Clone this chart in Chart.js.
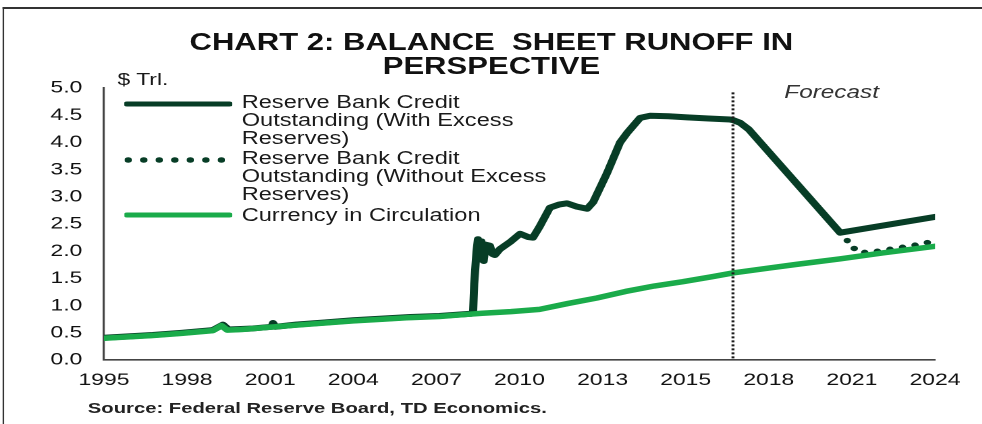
<!DOCTYPE html>
<html>
<head>
<meta charset="utf-8">
<script src="https://cdn.jsdelivr.net/npm/chart.js@4/dist/chart.umd.min.js"></script>
<style>
  html, body { margin: 0; padding: 0; background: #fff; width: 982px; height: 424px; overflow: hidden; }
  #stage {
    position: absolute; left: 0; top: 0; width: 728px; height: 424px;
    transform: scaleX(1.35); transform-origin: 0 0;
    font-family: "Liberation Sans", Arial, sans-serif; color: #1a1a1a;
  }
  #frame { position: absolute; left: 2px; top: 7px; right: -20px; bottom: -20px;
           border-top: 2px solid #333; border-left: 1.6px solid #333; }
  #chart { position: absolute; left: 0; top: 0; }
  .title { position: absolute; left: 0; top: 30px; width: 728px; text-align: center;
           font-weight: bold; font-size: 23px; line-height: 24px; white-space: pre; color: #111; }
  .unit { position: absolute; left: 87px; top: 70px; font-size: 17px; line-height: 20px; }
  .forecast { position: absolute; left: 581px; top: 81px; font-size: 18px; font-style: italic; line-height: 22px; color: #333; }
  .source { position: absolute; left: 65px; top: 399px; font-size: 15px; font-weight: bold; line-height: 18px; color: #222; }
  .lg { position: absolute; left: 179px; font-size: 17.5px; line-height: 18.2px; white-space: nowrap; }
  .sw { position: absolute; left: 92px; width: 80px; height: 8px; }
</style>
</head>
<body>
<div id="stage">
  <div id="frame"></div>
  <canvas id="chart" width="728" height="424"></canvas>
  <div class="title">CHART 2: BALANCE  SHEET RUNOFF IN
PERSPECTIVE</div>
  <div class="unit">$ Trl.</div>
  <div class="forecast">Forecast</div>

  <svg class="sw" style="top:100px" viewBox="0 0 80 8"><line x1="2" y1="4" x2="78" y2="4" stroke="#073d26" stroke-width="5" stroke-linecap="round"/></svg>
  <div class="lg" style="top:93px">Reserve Bank Credit<br>Outstanding (With Excess<br>Reserves)</div>

  <svg class="sw" style="top:156px" viewBox="0 0 80 8"><line x1="3" y1="4" x2="78" y2="4" stroke="#073d26" stroke-width="5.5" stroke-linecap="round" stroke-dasharray="0 11.5"/></svg>
  <div class="lg" style="top:149px">Reserve Bank Credit<br>Outstanding (Without Excess<br>Reserves)</div>

  <svg class="sw" style="top:211px" viewBox="0 0 80 8"><line x1="2" y1="4" x2="78" y2="4" stroke="#1aab4a" stroke-width="5" stroke-linecap="round"/></svg>
  <div class="lg" style="top:206px">Currency in Circulation</div>

  <div class="source">Source: Federal Reserve Board, TD Economics.</div>
</div>

<script>
// Axis range (decimal years) and the labels printed under it
const xMin = 1995.8;
const xMax = 2024.8;
const tickLabels = ['1995', '1998', '2001', '2004', '2007', '2010', '2013', '2015', '2018', '2021', '2024'];
const forecastStart = 2017.75;

// Reserve Bank Credit Outstanding, with excess reserves ($ trillions)
const creditYears = [
  1995.8, 1996.5, 1997.5, 1998.5, 1999.6, 1999.95, 2000.15, 2001.0, 2001.65, 2001.7, 2001.78,
  2002.5, 2003.5, 2004.5, 2005.5, 2006.5, 2007.5, 2008.6, 2008.68, 2008.72, 2008.8, 2008.85,
  2008.92, 2008.97, 2009.05, 2009.12, 2009.27, 2009.35, 2009.44, 2009.62, 2010.0, 2010.32,
  2010.6, 2010.77, 2011.0, 2011.36, 2011.7, 2011.96, 2012.3, 2012.66, 2012.87, 2013.35,
  2013.81, 2014.05, 2014.51, 2014.86, 2015.5, 2016.15, 2016.9, 2017.65, 2017.75, 2018.0,
  2018.3, 2021.49, 2024.8
];
const creditValues = [
  0.41, 0.43, 0.46, 0.50, 0.55, 0.65, 0.56, 0.58, 0.61, 0.68, 0.61,
  0.65, 0.69, 0.73, 0.76, 0.79, 0.81, 0.85, 0.86, 1.40, 2.00, 2.22,
  1.85, 2.18, 1.82, 2.12, 2.10, 1.95, 1.93, 2.04, 2.18, 2.32,
  2.26, 2.25, 2.45, 2.80, 2.86, 2.88, 2.82, 2.78, 2.90, 3.43,
  4.00, 4.17, 4.45, 4.49, 4.48, 4.46, 4.44, 4.42, 4.41, 4.36,
  4.24, 2.34, 2.63
];

// Reserve Bank Credit Outstanding, without excess reserves (forecast)
const noExcessYears = [2021.49, 2021.73, 2021.9, 2022.2, 2022.8, 2023.4, 2024.0, 2024.55];
const noExcessValues = [2.34, 2.20, 2.08, 1.97, 2.00, 2.05, 2.10, 2.16];

// Currency in circulation ($ trillions)
const currencyYears = [
  1995.8, 1996.5, 1997.5, 1998.5, 1999.6, 1999.9, 2000.1, 2000.6, 2001.5, 2002.5, 2003.5,
  2004.5, 2005.5, 2006.5, 2007.5, 2008.5, 2009.0, 2010.0, 2011.0, 2012.0, 2013.0, 2014.0,
  2015.0, 2016.0, 2017.0, 2017.75, 2019.0, 2020.0, 2021.5, 2023.0, 2024.8
];
const currencyValues = [
  0.40, 0.42, 0.45, 0.49, 0.54, 0.63, 0.55, 0.56, 0.60, 0.64, 0.68,
  0.72, 0.75, 0.78, 0.80, 0.84, 0.86, 0.89, 0.93, 1.04, 1.14, 1.26,
  1.36, 1.44, 1.53, 1.60, 1.69, 1.76, 1.86, 1.97, 2.09
];

const yTicks = [0, 0.5, 1, 1.5, 2, 2.5, 3, 3.5, 4, 4.5, 5];

const toPoints = (xs, ys) => xs.map((x, i) => ({ x: x, y: ys[i] }));

const DARK = '#073d26';
const GREEN = '#1aab4a';
const TICK_FONT = { family: '"Liberation Sans", Arial, sans-serif', size: 17 };

// Vertical dotted marker where the forecast begins
const forecastMarker = {
  id: 'forecastMarker',
  afterDatasetsDraw(chart) {
    const xs = chart.scales.x, ys = chart.scales.y;
    const px = xs.getPixelForValue(forecastStart);
    const ctx = chart.ctx;
    ctx.save();
    ctx.strokeStyle = '#1c1c1c';
    ctx.lineWidth = 2.2;
    ctx.setLineDash([2, 2]);
    ctx.beginPath();
    ctx.moveTo(px, ys.getPixelForValue(4.92));
    ctx.lineTo(px, ys.getPixelForValue(0));
    ctx.stroke();
    ctx.restore();
  }
};

new Chart(document.getElementById('chart'), {
  type: 'line',
  data: {
    datasets: [
      {
        label: 'Currency in Circulation',
        data: toPoints(currencyYears, currencyValues),
        borderColor: GREEN, borderWidth: 5.5, pointRadius: 0,
        borderJoinStyle: 'round', borderCapStyle: 'round', tension: 0
      },
      {
        label: 'Reserve Bank Credit Outstanding (Without Excess Reserves)',
        data: toPoints(noExcessYears, noExcessValues),
        borderColor: DARK, borderWidth: 5.5, pointRadius: 0,
        borderDash: [0, 9.5], borderCapStyle: 'round', borderJoinStyle: 'round', tension: 0
      },
      {
        label: 'Reserve Bank Credit Outstanding (With Excess Reserves)',
        data: toPoints(creditYears, creditValues),
        borderColor: DARK, borderWidth: 6, pointRadius: 0,
        borderJoinStyle: 'round', borderCapStyle: 'round', tension: 0
      }
    ]
  },
  options: {
    responsive: false,
    animation: false,
    devicePixelRatio: 2,
    layout: { padding: { left: 0, top: 88, right: 35.4, bottom: 34 } },
    plugins: { legend: { display: false }, title: { display: false }, tooltip: { enabled: false } },
    scales: {
      x: {
        type: 'linear', min: xMin, max: xMax,
        grid: { display: false, drawTicks: false },
        border: { display: true, color: '#444', width: 1.6 },
        afterBuildTicks(scale) {
          scale.ticks = tickLabels.map((_, i) => ({ value: xMin + i * (xMax - xMin) / (tickLabels.length - 1) }));
        },
        afterFit(scale) { scale.height = 30; },
        ticks: {
          autoSkip: false, maxRotation: 0, padding: 10,
          color: '#111', font: TICK_FONT,
          callback: (value, index) => tickLabels[index]
        }
      },
      y: {
        min: 0, max: 5,
        grid: { display: false, drawTicks: false },
        border: { display: true, color: '#444', width: 1.6 },
        afterBuildTicks(scale) { scale.ticks = yTicks.map(v => ({ value: v })); },
        afterFit(scale) { scale.width = 77; },
        ticks: {
          padding: 16, color: '#111', font: TICK_FONT,
          callback: (value) => Number(value).toFixed(1)
        }
      }
    }
  },
  plugins: [forecastMarker]
});
</script>
</body>
</html>
